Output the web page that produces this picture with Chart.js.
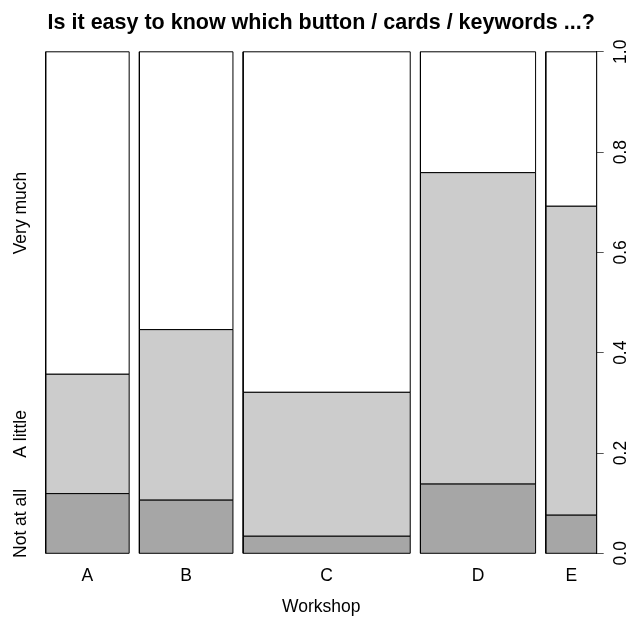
<!DOCTYPE html>
<html>
<head>
<meta charset="utf-8">
<script src="https://cdn.jsdelivr.net/npm/chart.js@4.4.1/dist/chart.umd.min.js"></script>
<style>
  html, body { margin: 0; padding: 0; background: #fff; }
  canvas { display: block; }
</style>
</head>
<body>
<canvas id="spine" width="629" height="620"></canvas>
<script>
// Categories and answer levels
const workshops = ['A', 'B', 'C', 'D', 'E'];
const levels = ['Not at all', 'A little', 'Very much'];

// Share of respondents per workshop (bar widths)
const workshopShare = [0.1636, 0.1834, 0.3275, 0.2257, 0.0998];

// Conditional proportions per workshop
const notAtAll = [0.119, 0.106, 0.034, 0.138, 0.076];
const aLittle = [0.238, 0.340, 0.287, 0.621, 0.616];
const veryMuch = [0.643, 0.554, 0.679, 0.241, 0.308];

const yTickValues = [0, 0.2, 0.4, 0.6, 0.8, 1.0];

const levelColors = ['#A6A6A6', '#CCCCCC', '#FFFFFF'];
const gap = 0.02;
const xMax = 1 + gap * (workshops.length - 1);

Chart.defaults.font.family = "'Liberation Sans', Arial, sans-serif";
Chart.defaults.font.size = 17.5;
Chart.defaults.color = '#000';

// left edge of each bar on the x scale
const barStarts = [];
let acc = 0;
workshopShare.forEach((w, i) => {
    barStarts.push(acc);
    acc += w + gap;
});
const barCenters = barStarts.map((s, i) => s + workshopShare[i] / 2);

// midpoints of the first bar's segments for the left labels
const firstBar = [notAtAll[0], aLittle[0], veryMuch[0]];
const levelMids = [];
let run = 0;
firstBar.forEach(v => {
    levelMids.push(run + v / 2);
    run += v;
});

function rectPoints(x0, x1, y0, y1) {
    return [
        { x: x0, y: y0 }, { x: x1, y: y0 },
        { x: x1, y: y1 }, { x: x0, y: y1 }, { x: x0, y: y0 }
    ];
}

const datasets = [];
workshops.forEach((name, i) => {
    const parts = [notAtAll[i], aLittle[i], veryMuch[i]];
    let bottom = 0;
    parts.forEach((p, j) => {
        datasets.push({
            label: name + ' ' + levels[j],
            data: rectPoints(barStarts[i], barStarts[i] + workshopShare[i], bottom, bottom + p),
            showLine: true,
            fill: 'shape',
            backgroundColor: levelColors[j],
            borderColor: '#000',
            borderWidth: 1,
            borderJoinStyle: 'miter',
            pointRadius: 0,
            tension: 0,
            clip: false,
            yAxisID: 'y'
        });
        bottom += p;
    });
});

new Chart(document.getElementById('spine'), {
    type: 'scatter',
    data: { datasets: datasets },
    options: {
        responsive: false,
        devicePixelRatio: 1,
        animation: false,
        layout: { padding: 0 },
        plugins: {
            legend: { display: false },
            tooltip: { enabled: false },
            title: {
                display: true,
                fullSize: false,
                text: 'Is it easy to know which button / cards / keywords ...?',
                font: { size: 21.5, weight: 'bold', lineHeight: 1.2 },
                padding: { top: 9.8, bottom: 16.2 }
            }
        },
        scales: {
            x: {
                type: 'linear',
                position: 'bottom',
                min: 0,
                max: xMax,
                grid: { display: false, drawTicks: false, tickLength: 0 },
                border: { display: false },
                afterBuildTicks: scale => { scale.ticks = barCenters.map(v => ({ value: v })); },
                afterFit: scale => { scale.height = 66.7; },
                ticks: {
                    autoSkip: false,
                    maxRotation: 0,
                    padding: 12.5,
                    callback: (value, index) => workshops[index]
                },
                title: { display: true, text: 'Workshop', padding: { top: 0, bottom: 2.5 } }
            },
            y: {
                type: 'linear',
                position: 'right',
                min: 0,
                max: 1,
                grid: { display: true, drawOnChartArea: false, drawTicks: true, tickLength: 7, color: '#555' },
                border: { display: true, color: '#000', width: 1 },
                afterBuildTicks: scale => { scale.ticks = yTickValues.map(v => ({ value: v })); },
                afterFit: scale => { scale.width = 32.3; },
                ticks: {
                    minRotation: 90,
                    maxRotation: 90,
                    crossAlign: 'center',
                    padding: 5.6,
                    callback: value => value.toFixed(1)
                }
            },
            yl: {
                type: 'linear',
                position: 'left',
                min: 0,
                max: 1,
                grid: { display: false, drawTicks: false, tickLength: 0 },
                border: { display: false },
                afterBuildTicks: scale => { scale.ticks = levelMids.map(v => ({ value: v })); },
                afterFit: scale => { scale.width = 45.7; },
                ticks: {
                    minRotation: 90,
                    maxRotation: 90,
                    crossAlign: 'center',
                    padding: -16.8,
                    callback: (value, index) => levels[index]
                }
            }
        }
    }
});
</script>
</body>
</html>
